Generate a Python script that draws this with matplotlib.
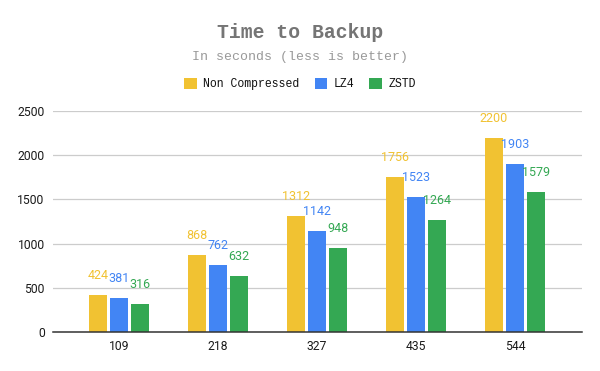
import matplotlib
matplotlib.use("Agg")
import matplotlib.pyplot as plt
from matplotlib.patches import Patch
import numpy as np

categories = ["109", "218", "327", "435", "544"]
series_names = ["Non Compressed", "LZ4", "ZSTD"]
non_compressed = [424, 868, 1312, 1756, 2200]
lz4 = [381, 762, 1142, 1523, 1903]
zstd = [316, 632, 948, 1264, 1579]
y_ticks = [0, 500, 1000, 1500, 2000, 2500]

colors = ["#F1C232", "#4285F4", "#34A853"]
series = [non_compressed, lz4, zstd]

fig = plt.figure(figsize=(6, 3.71), dpi=100)
ax = fig.add_axes([53/600, 1-332/371, (582-53)/600, (332-111)/371])

x = np.arange(len(categories))
pitch = 0.212
width = 0.19
for i, (vals, c) in enumerate(zip(series, colors)):
    xs = x + (i - 1) * pitch
    ax.bar(xs, vals, width=width, color=c, zorder=3)
    for xi, v in zip(xs, vals):
        ax.annotate(str(v), (xi, v), xytext=(0, 14), textcoords="offset points",
                    ha="center", va="center", color=c, fontsize=9, family="Roboto",
                    zorder=4)

ax.set_xlim(-0.667, 4.677)
ax.set_ylim(0, 2500)
ax.set_yticks(y_ticks)
ax.set_yticklabels([str(t) for t in y_ticks], family="Roboto", fontsize=8.7, color="#1a1a1a")
ax.set_xticks(x)
ax.set_xticklabels(categories, family="Roboto", fontsize=8.7, color="#1a1a1a")
ax.tick_params(length=0, pad=6)
ax.grid(axis="y", color="#cccccc", linewidth=0.9, zorder=0)
for s in ["top", "right", "left"]:
    ax.spines[s].set_visible(False)
ax.spines["bottom"].set_color("#333333")
ax.spines["bottom"].set_linewidth(1.1)
ax.spines["bottom"].set_zorder(5)

fig.text(0.5, 1-33/371, "Time to Backup", ha="center", va="center",
         family="Liberation Mono", fontweight="bold", fontsize=14.2, color="#757575")
fig.text(0.5, 1-57/371, "In seconds (less is better)", ha="center", va="center",
         family="Liberation Mono", fontsize=9.5, color="#999999")

handles = [Patch(facecolor=c, edgecolor="none") for c in colors]
fig.legend(handles, series_names, loc="center", bbox_to_anchor=(0.5, 1-84/371),
           ncol=3, frameon=False, prop={"family": "Liberation Mono", "size": 8.3},
           handlelength=1.1, handleheight=1.1, handletextpad=0.55, columnspacing=1.3,
           labelcolor="#111111")

fig.savefig("out.png", dpi=100)
